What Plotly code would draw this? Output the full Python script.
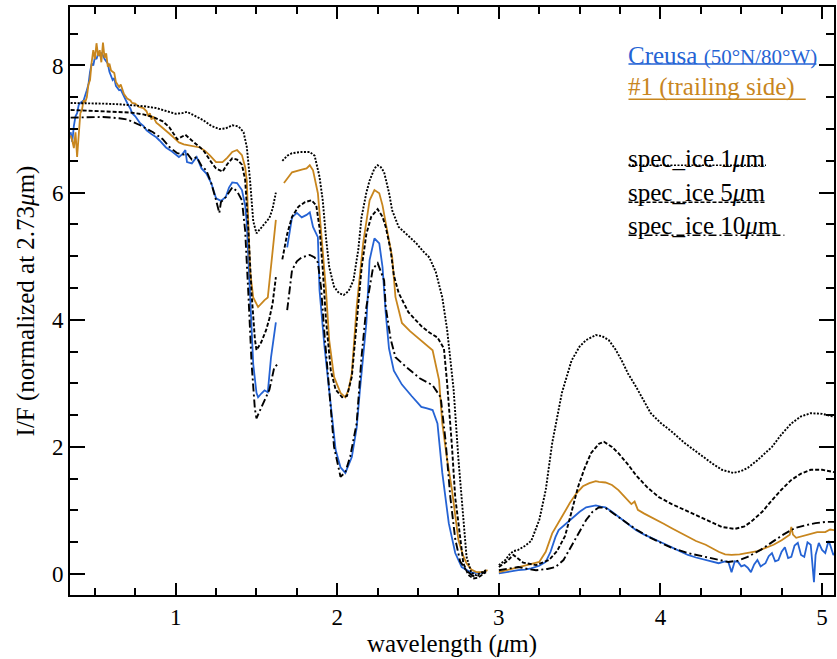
import plotly.graph_objects as go

# ---- observed spectra (I/F normalised at 2.73 um); None breaks the line at gaps ----
creusa_wl = [0.35, 0.36, 0.37, 0.38, 0.39, 0.40, 0.41, 0.43, 0.45, 0.46, 0.47, 0.48, 0.49, 0.50, 0.51, 0.52,
             0.53, 0.54, 0.55, 0.56, 0.58, 0.59, 0.61, 0.62, 0.63, 0.65, 0.66, 0.68, 0.70, 0.72, 0.73, 0.75,
             0.78, 0.80, 0.82, 0.85, 0.88, 0.90, 0.92, 0.94, 0.97, 0.99, 1.02, 1.04, 1.06, 1.07, 1.10, 1.13,
             1.16, 1.19, 1.22, 1.25, 1.28, 1.31, 1.33, 1.35, 1.38, 1.41, 1.43, 1.44, 1.46, 1.48, 1.50, 1.51,
             1.53, 1.55, 1.57, 1.59, 1.62, 1.655, 1.69, 1.72, 1.75, 1.78, 1.81, 1.83, 1.85, 1.88, 1.89, 1.92,
             1.95, 1.99, 2.02, 2.05, 2.09, 2.12, 2.14, 2.18, 2.20, 2.23, 2.26, 2.28, 2.30, 2.32, 2.35, 2.40,
             2.46, 2.52, 2.55, 2.59, 2.62, 2.65, 2.69, 2.73, 2.77, 2.83, 2.88, 2.92, 2.96, 3.00, 3.06, 3.12,
             3.16, 3.20, 3.25, 3.29, 3.32, 3.35, 3.37, 3.42, 3.46, 3.50, 3.54, 3.57, 3.60, 3.63, 3.66, 3.70,
             3.74, 3.78, 3.82, 3.85, 3.90, 3.94, 3.97, 4.02, 4.07, 4.12, 4.17, 4.22, 4.28, 4.32, 4.36, 4.40,
             4.42, 4.44, 4.46, 4.48, 4.50, 4.52, 4.54, 4.56, 4.58, 4.60, 4.62, 4.65, 4.67, 4.69, 4.71, 4.73,
             4.75, 4.77, 4.79, 4.81, 4.83, 4.85, 4.87, 4.89, 4.91, 4.93, 4.95, 4.96, 4.98, 5.00, 5.02, 5.04,
             5.05, 5.07, 5.08]
creusa_if = [6.95, 6.80, 7.05, 7.20, 7.25, 7.38, 7.41, 7.45, 7.61, 7.70, 7.90, 8.03, 8.00, 8.13, 8.10, 8.19,
             8.15, 8.20, 8.16, 8.10, 8.03, 7.90, 7.77, 7.80, 7.68, 7.61, 7.62, 7.50, 7.41, 7.32, 7.25, 7.20,
             7.09, 7.05, 6.98, 6.92, 6.87, 6.82, 6.76, 6.71, 6.66, 6.62, 6.56, 6.60, 6.67, 6.48, 6.46, 6.56,
             6.38, 6.30, 6.15, 5.91, 5.87, 5.93, 6.08, 6.16, 6.15, 6.04, 5.80, 5.52, 4.40, 3.30, 2.85, 2.78,
             2.84, 2.89, 2.86, 3.41, 3.96, None, 5.14, 5.61, 5.68, 5.61, 5.65, 5.69, 5.46, 5.30, 4.47, 3.60,
             2.89, 1.95, 1.68, 1.59, 1.84, 2.30, 2.89, 3.95, 4.94, 5.28, 5.20, 4.83, 4.10, 3.55, 3.20, 2.98,
             2.80, 2.63, 2.61, 2.58, 2.37, 1.59, 0.80, 0.33, 0.11, 0.02, 0.02, 0.03, None, 0.01, 0.04, 0.06,
             0.07, 0.09, 0.13, 0.19, 0.35, 0.58, 0.69, 0.80, 0.90, 0.98, 1.05, 1.07, 1.08, 1.06, 1.05, 0.98,
             0.90, 0.82, 0.74, 0.69, 0.62, 0.57, 0.53, 0.48, 0.42, 0.36, 0.30, 0.26, 0.22, 0.20, 0.17, 0.20,
             0.19, 0.03, 0.20, 0.19, 0.12, 0.14, 0.10, 0.03, 0.15, 0.22, 0.12, 0.17, 0.28, 0.33, 0.20, 0.22,
             0.35, 0.42, 0.25, 0.27, 0.45, 0.49, 0.30, 0.27, 0.50, 0.46, -0.13, 0.30, 0.49, 0.38, 0.33, 0.52,
             0.46, 0.30, 0.33]

trailing_wl = [0.35, 0.36, 0.37, 0.38, 0.39, 0.40, 0.41, 0.42, 0.43, 0.44, 0.45, 0.46, 0.47, 0.48, 0.49, 0.50,
               0.51, 0.52, 0.53, 0.54, 0.55, 0.56, 0.57, 0.58, 0.59, 0.60, 0.62, 0.63, 0.65, 0.66, 0.68, 0.70,
               0.72, 0.73, 0.75, 0.77, 0.80, 0.82, 0.83, 0.84, 0.85, 0.86, 0.88, 0.90, 0.93, 0.96, 0.99, 1.02,
               1.05, 1.09, 1.12, 1.15, 1.18, 1.21, 1.25, 1.29, 1.32, 1.35, 1.38, 1.41, 1.43, 1.44, 1.46, 1.48,
               1.51, 1.53, 1.55, 1.57, 1.59, 1.60, 1.62, 1.645, 1.67, 1.72, 1.78, 1.81, 1.83, 1.85, 1.88, 1.91,
               1.93, 1.95, 1.98, 2.02, 2.05, 2.07, 2.09, 2.12, 2.16, 2.20, 2.23, 2.26, 2.28, 2.30, 2.34, 2.36,
               2.40, 2.45, 2.49, 2.54, 2.59, 2.63, 2.65, 2.68, 2.71, 2.75, 2.78, 2.80, 2.83, 2.86, 2.90, 2.93,
               2.965, 3.00, 3.05, 3.09, 3.13, 3.17, 3.25, 3.29, 3.33, 3.39, 3.44, 3.48, 3.52, 3.56, 3.60, 3.62,
               3.66, 3.70, 3.74, 3.78, 3.82, 3.84, 3.86, 3.90, 3.94, 3.97, 4.02, 4.07, 4.12, 4.17, 4.22, 4.28,
               4.32, 4.36, 4.40, 4.44, 4.49, 4.54, 4.60, 4.65, 4.70, 4.75, 4.78, 4.80, 4.81, 4.82, 4.84, 4.88,
               4.93, 4.97, 5.02, 5.05, 5.08]
trailing_if = [6.90, 6.82, 6.70, 6.95, 6.56, 6.90, 7.25, 7.30, 7.45, 7.42, 7.50, 7.70, 7.77, 8.05, 8.24, 8.10,
               8.35, 8.15, 8.24, 8.05, 8.36, 8.12, 8.19, 7.98, 8.03, 7.92, 7.88, 7.74, 7.66, 7.70, 7.55, 7.48,
               7.45, 7.41, 7.40, 7.35, 7.33, 7.28, 7.20, 7.25, 7.15, 7.20, 7.10, 7.06, 7.00, 6.93, 6.86, 6.79,
               6.76, 6.74, 6.73, 6.71, 6.66, 6.59, 6.48, 6.48, 6.55, 6.64, 6.67, 6.59, 6.40, 6.19, 4.78, 4.35,
               4.20, 4.26, 4.31, 4.35, 4.80, 5.05, 5.57, None, 6.15, 6.32, 6.36, 6.38, 6.43, 6.35, 5.99, 5.09,
               4.47, 3.68, 3.10, 2.85, 2.78, 2.90, 3.16, 4.20, 5.20, 5.88, 6.04, 5.99, 5.80, 5.52, 4.98, 4.36,
               3.95, 3.82, 3.73, 3.62, 3.52, 3.05, 2.37, 1.80, 1.32, 0.53, 0.28, 0.17, 0.07, 0.03, 0.03, 0.06,
               None, 0.03, 0.06, 0.09, 0.12, 0.14, 0.19, 0.35, 0.64, 0.90, 1.12, 1.27, 1.38, 1.43, 1.46, 1.45,
               1.44, 1.40, 1.32, 1.21, 1.10, 1.14, 1.01, 0.95, 0.90, 0.85, 0.79, 0.72, 0.65, 0.58, 0.52, 0.46,
               0.40, 0.35, 0.31, 0.30, 0.31, 0.33, 0.36, 0.41, 0.46, 0.53, 0.58, 0.62, 0.74, 0.62, 0.57, 0.60,
               0.64, 0.66, 0.66, 0.70, 0.69]

# ---- model spectra of pure ice for three grain sizes ----
ice1_wl = [0.35, 0.45, 0.55, 0.65, 0.72, 0.80, 0.88, 0.95, 1.00, 1.04, 1.07, 1.11, 1.17, 1.22, 1.27, 1.31,
           1.35, 1.39, 1.42, 1.44, 1.46, 1.48, 1.50, 1.54, 1.58, 1.60, 1.62, 1.64, 1.66, 1.69, 1.72, 1.78,
           1.83, 1.86, 1.89, 1.91, 1.93, 1.95, 1.98, 2.01, 2.04, 2.07, 2.10, 2.13, 2.15, 2.18, 2.20, 2.23,
           2.25, 2.27, 2.29, 2.32, 2.34, 2.38, 2.44, 2.49, 2.53, 2.57, 2.61, 2.65, 2.68, 2.70, 2.72, 2.75,
           2.78, 2.80, 2.83, 2.86, 2.89, 2.92, 2.96, 3.00, 3.04, 3.07, 3.09, 3.12, 3.16, 3.20, 3.25, 3.29,
           3.33, 3.39, 3.45, 3.50, 3.54, 3.60, 3.64, 3.68, 3.72, 3.76, 3.80, 3.85, 3.94, 4.00, 4.07, 4.15,
           4.25, 4.32, 4.38, 4.45, 4.50, 4.54, 4.60, 4.69, 4.75, 4.81, 4.87, 4.93, 5.00, 5.08]
ice1_if = [7.41, 7.41, 7.40, 7.39, 7.38, 7.36, 7.33, 7.28, 7.24, 7.25, 7.27, 7.22, 7.14, 7.05, 7.00, 7.01,
           7.06, 7.04, 6.95, 6.72, 6.20, 5.55, 5.36, 5.48, 5.60, 5.75, 6.00, None, 6.50, 6.58, 6.62, 6.64,
           6.64, 6.58, 6.25, 5.88, 5.30, 4.83, 4.52, 4.42, 4.39, 4.45, 4.62, 5.10, 5.61, 6.00, 6.19, 6.38,
           6.43, 6.40, 6.32, 6.00, 5.72, 5.46, 5.32, 5.20, 5.08, 4.98, 4.75, 4.35, 3.84, 3.35, 2.90, 1.80,
           0.85, 0.27, 0.02, -0.02, 0.02, 0.06, None, 0.14, 0.22, 0.32, 0.36, 0.38, 0.44, 0.52, 0.85, 1.32,
           2.06, 2.85, 3.36, 3.58, 3.68, 3.76, 3.74, 3.68, 3.54, 3.36, 3.15, 2.94, 2.53, 2.38, 2.24, 2.06,
           1.87, 1.74, 1.64, 1.59, 1.62, 1.67, 1.79, 2.00, 2.20, 2.37, 2.48, 2.53, 2.52, 2.47]

ice5_wl = [0.35, 0.45, 0.55, 0.65, 0.72, 0.80, 0.86, 0.92, 0.96, 1.01, 1.04, 1.06, 1.10, 1.17, 1.22, 1.25,
           1.29, 1.32, 1.35, 1.38, 1.41, 1.43, 1.45, 1.47, 1.49, 1.50, 1.53, 1.56, 1.58, 1.60, 1.62, 1.64,
           1.66, 1.69, 1.72, 1.76, 1.80, 1.84, 1.87, 1.89, 1.91, 1.93, 1.96, 1.99, 2.03, 2.06, 2.09, 2.12,
           2.15, 2.18, 2.21, 2.25, 2.28, 2.30, 2.33, 2.35, 2.38, 2.44, 2.52, 2.57, 2.62, 2.66, 2.68, 2.71,
           2.73, 2.75, 2.78, 2.81, 2.84, 2.87, 2.90, 2.92, 2.96, 3.00, 3.05, 3.09, 3.12, 3.15, 3.23, 3.31,
           3.36, 3.41, 3.45, 3.49, 3.53, 3.57, 3.62, 3.65, 3.70, 3.74, 3.80, 3.85, 3.92, 3.99, 4.07, 4.17,
           4.25, 4.32, 4.38, 4.46, 4.52, 4.56, 4.63, 4.69, 4.75, 4.81, 4.87, 4.93, 5.00, 5.08]
ice5_if = [7.30, 7.29, 7.28, 7.27, 7.26, 7.23, 7.19, 7.12, 7.03, 6.84, 6.88, 6.91, 6.82, 6.67, 6.48, 6.38,
           6.33, 6.45, 6.54, 6.52, 6.44, 6.20, 5.40, 4.40, 3.70, 3.52, 3.65, 3.84, 4.02, 4.26, 4.67, None,
           4.95, 5.35, 5.62, 5.78, 5.85, 5.88, 5.80, 5.45, 4.80, 4.00, 3.20, 2.90, 2.78, 2.80, 3.10, 4.00,
           4.80, 5.35, 5.62, 5.74, 5.62, 5.46, 5.10, 4.70, 4.42, 4.12, 3.90, 3.80, 3.72, 3.55, 3.00, 2.00,
           1.20, 0.80, 0.17, -0.01, -0.07, -0.06, -0.01, 0.03, None, 0.11, 0.20, 0.30, 0.24, 0.18, 0.14, 0.22,
           0.36, 0.60, 0.98, 1.37, 1.66, 1.90, 2.05, 2.08, 2.00, 1.90, 1.72, 1.55, 1.36, 1.21, 1.10, 0.98,
           0.89, 0.80, 0.74, 0.71, 0.75, 0.82, 0.98, 1.16, 1.33, 1.48, 1.58, 1.64, 1.64, 1.60]

ice10_wl = [0.35, 0.45, 0.55, 0.65, 0.70, 0.78, 0.86, 0.92, 0.96, 1.01, 1.05, 1.07, 1.10, 1.13, 1.16, 1.19,
            1.22, 1.25, 1.27, 1.28, 1.31, 1.35, 1.38, 1.41, 1.43, 1.45, 1.47, 1.49, 1.50, 1.53, 1.55, 1.58,
            1.61, 1.64, 1.665, 1.69, 1.72, 1.75, 1.78, 1.83, 1.86, 1.88, 1.90, 1.92, 1.95, 1.98, 2.02, 2.05,
            2.08, 2.12, 2.15, 2.18, 2.22, 2.25, 2.29, 2.30, 2.33, 2.36, 2.43, 2.51, 2.59, 2.64, 2.67, 2.70,
            2.73, 2.76, 2.80, 2.84, 2.88, 2.92, 2.96, 3.00, 3.06, 3.12, 3.18, 3.23, 3.30, 3.35, 3.40, 3.44,
            3.48, 3.54, 3.58, 3.62, 3.66, 3.70, 3.78, 3.85, 3.93, 4.00, 4.07, 4.17, 4.28, 4.35, 4.42, 4.48,
            4.54, 4.62, 4.69, 4.76, 4.83, 4.90, 4.96, 5.02, 5.08]
ice10_if = [7.18, 7.19, 7.19, 7.17, 7.15, 7.06, 6.95, 6.84, 6.72, 6.62, 6.60, 6.62, 6.52, 6.56, 6.42, 6.35,
            6.15, 5.88, 5.68, 5.85, 5.93, 6.08, 6.02, 5.88, 5.40, 4.40, 3.30, 2.60, 2.45, 2.62, 2.74, 2.90,
            3.25, 3.32, None, 4.15, 4.78, 4.92, 4.98, 5.02, 4.98, 4.90, 4.50, 3.80, 2.90, 2.00, 1.53, 1.60,
            1.85, 2.37, 3.41, 4.20, 4.80, 4.89, 4.62, 4.20, 3.70, 3.41, 3.25, 3.08, 2.97, 2.78, 2.10, 1.20,
            0.55, 0.20, 0.05, -0.03, -0.02, 0.05, None, 0.06, 0.09, 0.11, 0.08, 0.06, 0.08, 0.11, 0.22, 0.40,
            0.58, 0.85, 0.98, 1.05, 1.04, 0.97, 0.82, 0.70, 0.58, 0.49, 0.41, 0.33, 0.27, 0.22, 0.19, 0.21,
            0.27, 0.38, 0.50, 0.62, 0.72, 0.77, 0.80, 0.82, 0.82]

BLUE = "#2563d4"
ORANGE = "#c8861e"
FONT = "Liberation Serif"

series = [
    (creusa_wl, creusa_if, BLUE, "solid", 1.8),
    (trailing_wl, trailing_if, ORANGE, "solid", 1.8),
    (ice1_wl, ice1_if, "black", "2px,1.5px", 1.9),
    (ice5_wl, ice5_if, "black", "4px,2px", 1.9),
    (ice10_wl, ice10_if, "black", "8px,3px,2px,3px", 1.9),
]

fig = go.Figure()
for wl, val, color, dash, width in series:
    fig.add_trace(go.Scatter(x=wl, y=val, mode="lines", connectgaps=False,
                             line=dict(color=color, dash=dash, width=width),
                             showlegend=False, hoverinfo="skip"))

# legend: text labels underlined with the matching line style
legend_items = [
    ("Creusa <span style='font-size:21px'>(50°N/80°W)</span>", BLUE, "solid", 0.918, 0.903, 0.977),
    ("#1 (trailing side)", ORANGE, "solid", 0.864, 0.843, 0.963),
    ("spec_ice 1<i>μ</i>m", "black", "2px,1.5px", 0.743, 0.731, 0.911),
    ("spec_ice 5<i>μ</i>m", "black", "4px,2px", 0.685, 0.668, 0.911),
    ("spec_ice 10<i>μ</i>m", "black", "8px,3px,2px,3px", 0.629, 0.612, 0.935),
]
x_left = 0.731
for text, color, dash, ytxt, yline, xend in legend_items:
    fig.add_annotation(xref="paper", yref="paper", x=x_left, y=ytxt, text=text,
                       showarrow=False, xanchor="left", yanchor="middle", xshift=-2,
                       font=dict(family=FONT, size=25, color=color))
    fig.add_shape(type="line", xref="paper", yref="paper", x0=x_left, x1=xend,
                  y0=yline, y1=yline, line=dict(color=color, dash=dash, width=1.5))

axis_common = dict(showline=True, linecolor="black", linewidth=2, mirror="allticks",
                   ticks="inside", tickcolor="black", tickwidth=2, showgrid=False, zeroline=False,
                   tickfont=dict(family=FONT, size=23, color="black"))

fig.update_xaxes(range=[0.346, 5.074], tick0=0, dtick=1, ticklen=12,
                 minor=dict(dtick=0.25, ticks="inside", ticklen=7, tickwidth=1.5, tickcolor="black"),
                 title=dict(text="wavelength (<i>μ</i>m)", font=dict(family=FONT, size=25, color="black"),
                            standoff=6),
                 **axis_common)
fig.update_yaxes(range=[-0.33, 8.92], tick0=0, dtick=2, ticklen=15,
                 minor=dict(dtick=0.5, ticks="inside", ticklen=8, tickwidth=1.5, tickcolor="black"),
                 title=dict(text="I/F (normalized at 2.73<i>μ</i>m)",
                            font=dict(family=FONT, size=25, color="black"), standoff=10),
                 **axis_common)

fig.update_layout(width=837, height=659, margin=dict(l=70, r=1, t=7, b=64),
                  paper_bgcolor="white", plot_bgcolor="white",
                  font=dict(family=FONT, color="black"))

fig.write_html("out.html")
